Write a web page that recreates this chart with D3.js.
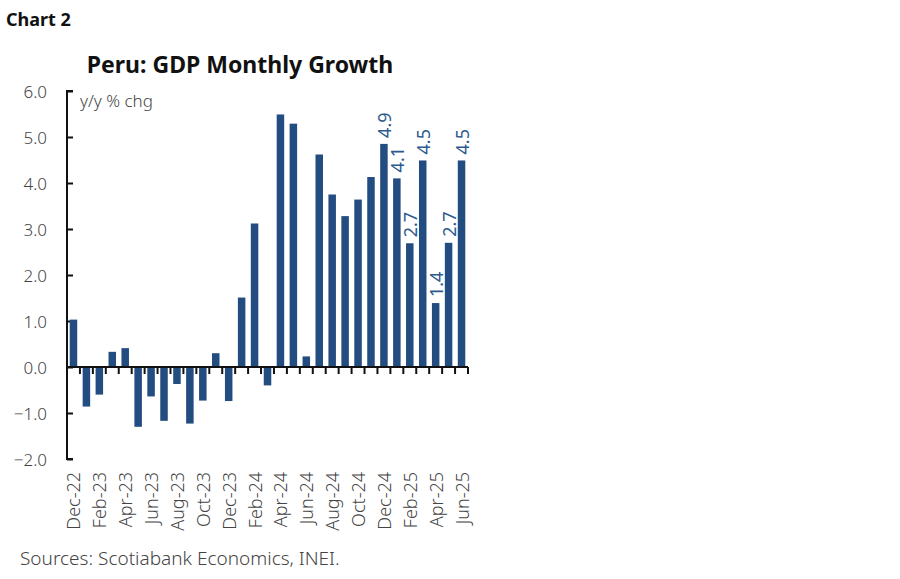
<!DOCTYPE html>
<html><head><meta charset="utf-8">
<script src="https://cdn.jsdelivr.net/npm/d3@7"></script>
<style>body{margin:0;background:#fff;} text{font-family:"Noto Sans",sans-serif;}</style>
</head><body>
<svg id="c" width="900" height="579"></svg>
<script>
const months = ["Dec-22","Jan-23","Feb-23","Mar-23","Apr-23","May-23","Jun-23","Jul-23","Aug-23","Sep-23","Oct-23","Nov-23","Dec-23","Jan-24","Feb-24","Mar-24","Apr-24","May-24","Jun-24","Jul-24","Aug-24","Sep-24","Oct-24","Nov-24","Dec-24","Jan-25","Feb-25","Mar-25","Apr-25","May-25","Jun-25"];
const growth = [1.03,-0.86,-0.6,0.33,0.41,-1.3,-0.64,-1.17,-0.37,-1.23,-0.73,0.3,-0.74,1.51,3.12,-0.4,5.49,5.29,0.23,4.62,3.75,3.28,3.64,4.13,4.85,4.1,2.69,4.49,1.39,2.7,4.49];
const labelMonths = ["Dec-24","Jan-25","Feb-25","Mar-25","Apr-25","May-25","Jun-25"];
const labelTexts = ["4.9","4.1","2.7","4.5","1.4","2.7","4.5"];
const yTicks = [-2,-1,0,1,2,3,4,5,6];

const svg = d3.select("#c");
const barColor = "#234d80";
const x = d3.scaleBand().domain(months).range([67,468]).paddingInner(0.42).paddingOuter(0.21);
const xb = d3.scaleBand().domain(months).range([67,468]);
const y = d3.scaleLinear().domain([-2,6]).range([459,91]);
const light = 300;

svg.append("text").attr("x",6).attr("y",26).attr("font-size",18).attr("font-weight","bold").attr("fill","#111").text("Chart 2");
svg.append("text").attr("x",240).attr("y",73).attr("text-anchor","middle").attr("font-size",23).attr("font-weight","bold").attr("fill","#111").text("Peru: GDP Monthly Growth");

// y axis
const ya = d3.axisRight(y).tickValues(yTicks).tickSize(6).tickFormat("");
const gy = svg.append("g").attr("transform","translate(67,0)").call(ya);
gy.select(".domain").attr("stroke","#111").attr("stroke-width",2).attr("d","M6,91H0V459H6");
gy.selectAll(".tick line").attr("stroke","#111").attr("stroke-width",2);
svg.append("g").selectAll("text").data(yTicks).join("text")
  .attr("x",47).attr("y",d=>y(d)+7).attr("text-anchor","end").attr("font-size",17).attr("font-weight",light).attr("fill","#444")
  .text(d=>d3.format(".1f")(d));
svg.append("text").attr("x",80).attr("y",107).attr("font-size",17).attr("font-weight",light).attr("fill","#444").text("y/y % chg");

// bars
svg.append("g").selectAll("rect").data(months).join("rect")
  .attr("x",d=>x(d)).attr("width",x.bandwidth())
  .attr("y",(d,i)=>y(Math.max(0,growth[i])))
  .attr("height",(d,i)=>Math.abs(y(growth[i])-y(0)))
  .attr("fill",barColor);

// x axis at zero
const gx = svg.append("g").attr("transform",`translate(0,${y(0)})`);
gx.append("line").attr("x1",67).attr("x2",468).attr("stroke","#111").attr("stroke-width",2);
gx.selectAll("line.t").data(months).join("line").attr("class","t")
  .attr("x1",d=>xb(d)+xb.bandwidth()).attr("x2",d=>xb(d)+xb.bandwidth())
  .attr("y1",0).attr("y2",7).attr("stroke","#111").attr("stroke-width",2);

// x labels
svg.append("g").selectAll("text").data(months.filter((m,i)=>i%2===0)).join("text")
  .attr("transform",d=>`translate(${xb(d)+xb.bandwidth()/2+7},472) rotate(-90)`)
  .attr("text-anchor","end").attr("font-size",18).attr("font-weight",light).attr("fill","#444").text(d=>d);

// value labels
svg.append("g").selectAll("text").data(labelMonths).join("text")
  .attr("transform",(d,i)=>`translate(${xb(d)+xb.bandwidth()/2+7},${y(growth[months.indexOf(d)])-6}) rotate(-90)`)
  .attr("text-anchor","start").attr("font-size",18).attr("fill","#2c5a8f").text((d,i)=>labelTexts[i]);

svg.append("text").attr("x",20).attr("y",565).attr("font-size",19).attr("font-weight",light).attr("fill","#444").text("Sources: Scotiabank Economics, INEI.");
</script>
</body></html>
